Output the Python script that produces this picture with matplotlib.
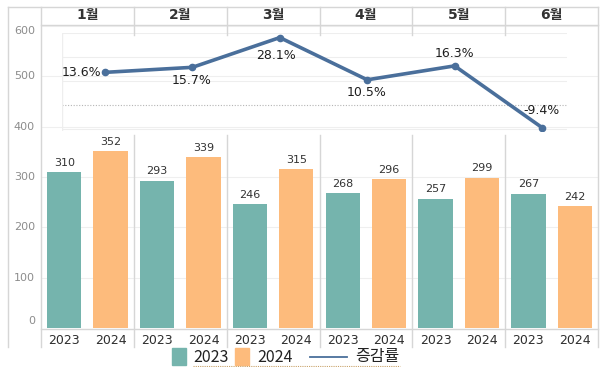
import matplotlib
matplotlib.use("Agg")
import matplotlib.pyplot as plt
from matplotlib.lines import Line2D
from matplotlib.patches import Rectangle
import numpy as np

# ---- data ----
months = ["1월", "2월", "3월", "4월", "5월", "6월"]
series_names = ["2023", "2024"]
values_2023 = [310, 293, 246, 268, 257, 267]
values_2024 = [352, 339, 315, 296, 299, 242]
growth_pct = [13.6, 15.7, 28.1, 10.5, 16.3, -9.4]
growth_name = "증감률"
y_ticks = [0, 100, 200, 300, 400, 500, 600]

# ---- style ----
W, H = 607, 367
C23 = "#75B4AD"
C24 = "#FDBB7C"
CLINE = "#4A6F9B"
FRAME = "#d6d6d6"
GRID = "#efefef"
pct_offsets = [(-4, 0, "right"), (-1, -13, "center"), (-4, -18, "center"),
               (-1, -13, "center"), (0, 12, "center"), (-1, 17, "center")]

fig = plt.figure(figsize=(W / 100, H / 100), dpi=100)
fig.patch.set_facecolor("white")

def fx(px):
    return px / W

def fy(py):
    return 1 - py / H

def fline(x0, y0, x1, y1, **kw):
    fig.add_artist(Line2D([fx(x0), fx(x1)], [fy(y0), fy(y1)],
                          transform=fig.transFigure, **kw))

L, R, T, B = 41, 598, 25, 328
ax = fig.add_axes([fx(L), fy(B), (R - L) / W, (B - T) / H])
ax.set_xlim(0, 6)
ax.set_ylim(0, 602)
for s in ax.spines.values():
    s.set_visible(False)

# primary gridlines
for v in y_ticks[1:]:
    ax.axhline(v, color=GRID, lw=0.8, zorder=0)

# bars
n = len(months)
idx = np.arange(n)
bw = 0.37
ax.bar(idx + 0.25, values_2023, width=bw, color=C23, zorder=2)
ax.bar(idx + 0.75, values_2024, width=bw, color=C24, zorder=2)
for i in range(n):
    for xo, v in ((0.25, values_2023[i]), (0.75, values_2024[i])):
        ax.annotate(f"{v}", xy=(i + xo, v), xytext=(0, 3), textcoords="offset points",
                    ha="center", va="bottom", fontsize=8, color="#333333")

# x ticks (years)
xt = np.concatenate([[i + 0.25, i + 0.75] for i in range(n)])
ax.set_xticks(xt)
ax.set_xticklabels(series_names * n, fontsize=9, color="#2e2e2e")
ax.tick_params(axis="x", length=0, pad=4)

# y tick labels
ax.set_yticks([])
for v in y_ticks:
    dy = 7 if v == y_ticks[0] else (-5 if v == y_ticks[-1] else 0)
    ax.annotate(f"{v}", xy=(0, v), xycoords=("axes fraction", "data"),
                xytext=(-6, dy), textcoords="offset pixels",
                ha="right", va="center", fontsize=8, color="#8c8c8c")

# month headers
for i, m in enumerate(months):
    ax.text(i + 0.5, (B - 15.5) / (B - T), m, transform=ax.get_xaxis_transform(),
            ha="center", va="center", fontsize=10, fontweight="bold", color="#333333",
            family=["DejaVu Sans", "Noto Sans CJK KR"])

# frame lines
pw = (R - L) / n
fline(8, 7, R, 7, color=FRAME, lw=1)
fline(8, 7, 8, 347, color=FRAME, lw=1)
fline(L, 7, L, 347, color=FRAME, lw=1)
fline(R, 7, R, 347, color=FRAME, lw=1)
fline(L, T, R, T, color=FRAME, lw=1)
fline(L, B + 0.5, R, B + 0.5, color=FRAME, lw=1)
for i in range(1, n):
    x = L + pw * i
    fline(x, 7, x, 35, color=FRAME, lw=1)
    fline(x, 135, x, 347, color=FRAME, lw=1)

# line pane
PL, PR, PT, PB = 62, 567, 33, 131
axl = fig.add_axes([fx(PL), fy(PB), (PR - PL) / W, (PB - PT) / H])
axl.patch.set_alpha(0)
sp = 87.4
axl.set_xlim(-(105 - PL) / sp, (PR - 105) / sp)
axl.set_ylim(-(PB - 105) / 2.4, (105 - PT) / 2.4)
for s in axl.spines.values():
    s.set_visible(False)
axl.axvline(axl.get_xlim()[0], color="#eeeeee", lw=1)
for g in (-10, 10, 20, 30):
    axl.axhline(g, color="#eeeeee", lw=0.8, zorder=0)
axl.axhline(0, color="#b5b5b5", lw=0.8, ls=(0, (1, 1.5)), zorder=0)
axl.set_xticks([])
axl.set_yticks([])
axl.plot(idx, growth_pct, color=CLINE, lw=2.6, marker="o", ms=4.5,
         solid_capstyle="round", zorder=3)
for i, p in enumerate(growth_pct):
    dx, dy, ha = pct_offsets[i]
    axl.annotate(f"{p:.1f}%", xy=(i, p), xytext=(dx, dy), textcoords="offset pixels",
                 ha=ha, va="center", fontsize=9, color="#1e1e1e", zorder=4,
                 annotation_clip=False)

# legend
lf = ["Noto Sans CJK KR", "DejaVu Sans"]
fig.add_artist(Rectangle((fx(172), fy(365)), 14 / W, 17 / H, color=C23,
                         transform=fig.transFigure))
fig.text(fx(193), fy(357), series_names[0], ha="left", va="center",
         fontsize=11.5, color="#222222", family=lf)
fig.add_artist(Rectangle((fx(235), fy(365)), 14 / W, 17 / H, color=C24,
                         transform=fig.transFigure))
fig.text(fx(257), fy(357), series_names[1], ha="left", va="center",
         fontsize=11.5, color="#222222", family=lf)
fline(310, 357, 347, 357, color=CLINE, lw=1.3)
fig.text(fx(355), fy(357), growth_name, ha="left", va="center",
         fontsize=11.5, color="#222222", family=lf)
fline(193, 365.5, 400, 365.5, color="#c9a36a", lw=0.8, ls=(0, (1, 1)))

fig.savefig("out.png", dpi=100, facecolor="white")
